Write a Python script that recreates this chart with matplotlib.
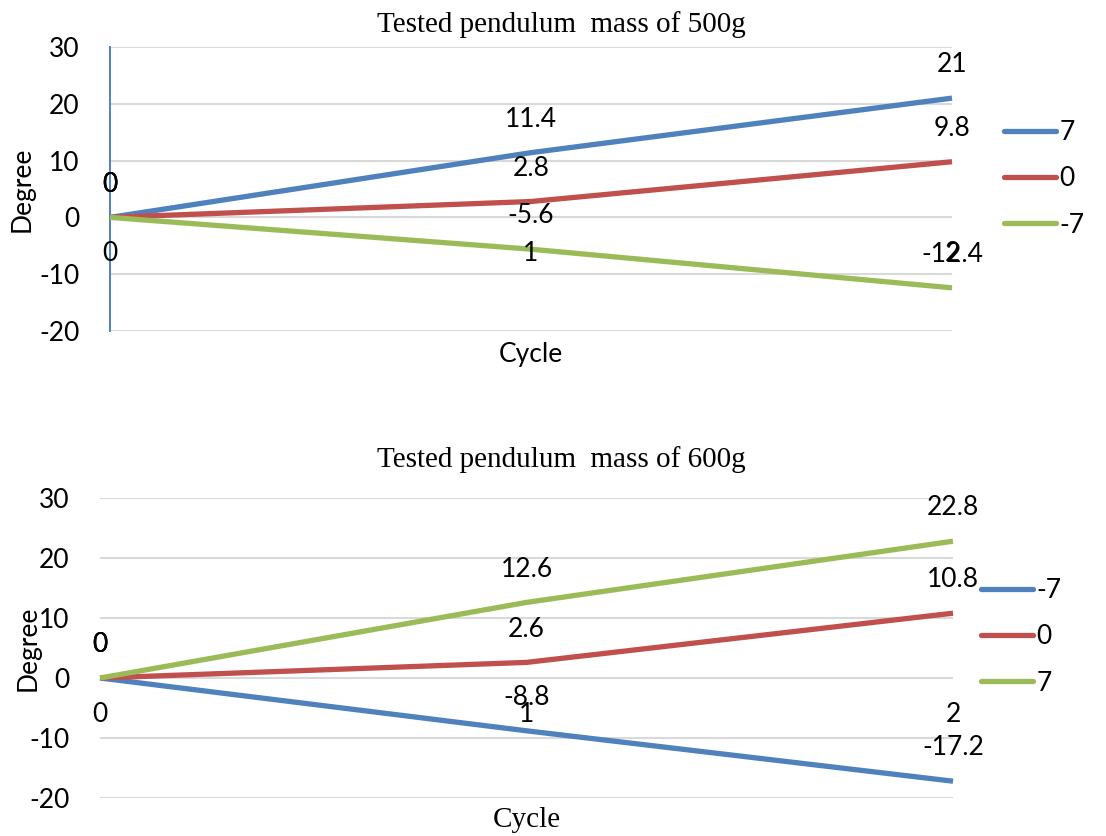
import matplotlib
matplotlib.use("Agg")
import matplotlib.pyplot as plt
from matplotlib.lines import Line2D

cycles = [0, 1, 2]
cycle_labels = ["0", "1", "2"]
yticks = [-20, -10, 0, 10, 20, 30]

top_title = "Tested pendulum  mass of 500g"
top_names = ["7", "0", "-7"]
top_pos7 = [0, 11.4, 21]
top_zero = [0, 2.8, 9.8]
top_neg7 = [0, -5.6, -12.4]

bot_title = "Tested pendulum  mass of 600g"
bot_names = ["-7", "0", "7"]
bot_neg7 = [0, -8.8, -17.2]
bot_zero = [0, 2.6, 10.8]
bot_pos7 = [0, 12.6, 22.8]

BLUE = "#4F81BD"
RED = "#C0504D"
GREEN = "#9BBB59"

SANS = ["Lato", "DejaVu Sans"]
SERIF = ["Liberation Serif", "DejaVu Serif"]
FS = 19
TFS = 21

W, H = 1106, 836
fig = plt.figure(figsize=(W / 100, H / 100), dpi=100)


def make_panel(rect, title, title_y, series, names, colors, legend_xy,
               cycle_font, cycle_fs, left_spine, ylabel_x, cycle_label_y):
    ax = fig.add_axes(rect)
    ax.set_xlim(0, 2)
    ax.set_ylim(-20, 30)
    ax.set_yticks(yticks)
    ax.set_yticklabels([str(v) for v in yticks], fontsize=FS, family=SANS)
    ax.set_xticks([])
    ax.tick_params(axis="y", length=0, pad=22)
    ax.grid(axis="y", color="#D9D9D9", linewidth=1.5)
    ax.set_axisbelow(True)
    for s in ["top", "right", "bottom"]:
        ax.spines[s].set_visible(False)
    if left_spine:
        ax.spines["left"].set_color(BLUE)
        ax.spines["left"].set_linewidth(1.4)
    else:
        ax.spines["left"].set_visible(False)

    for ys, c in zip(series, colors):
        ax.plot(cycles, ys, color=c, linewidth=3.8, solid_joinstyle="round",
                solid_capstyle="butt", zorder=3, clip_on=False)
        for x, y in zip(cycles, ys):
            lbl = "0" if y == 0 else f"{y:g}"
            ax.annotate(lbl, (x, y), xytext=(0, 24), textcoords="offset points",
                        ha="center", va="center", fontsize=FS, family=SANS,
                        zorder=5, annotation_clip=False)
    for x, lab in zip(cycles, cycle_labels):
        ax.annotate(lab, (x, 0), xytext=(0, -26), textcoords="offset points",
                    ha="center", va="center", fontsize=FS, family=SANS,
                    zorder=5, annotation_clip=False)

    fig.text(561 / W, title_y, title, ha="center", va="center",
             fontsize=TFS, family=SERIF)
    fig.text(ylabel_x, rect[1] + rect[3] * 0.5, "Degree", rotation=90,
             ha="center", va="center", fontsize=FS, family=SANS)
    fig.text(rect[0] + rect[2] / 2, cycle_label_y, "Cycle", ha="center",
             va="center", fontsize=cycle_fs, family=cycle_font)

    handles = [Line2D([], [], color=c, linewidth=3.8, solid_capstyle="round")
               for c in colors]
    fig.legend(handles, names, loc="center left",
               bbox_to_anchor=legend_xy, frameon=False,
               prop={"family": SANS, "size": FS}, borderpad=0,
               handlelength=1.95, handletextpad=0.15, labelspacing=0.8)
    return ax


make_panel([110 / W, 1 - 331 / H, 842 / W, 284 / H], top_title, 1 - 25 / H,
           [top_pos7, top_zero, top_neg7], top_names, [BLUE, RED, GREEN],
           (991 / W, 1 - 179 / H), SANS, FS, True, 22 / W, 1 - 354 / H)

make_panel([100 / W, 1 - 798 / H, 853 / W, 300 / H], bot_title, 1 - 460 / H,
           [bot_neg7, bot_zero, bot_pos7], bot_names, [BLUE, RED, GREEN],
           (968 / W, 1 - 637 / H), SERIF, TFS, False, 28 / W, 1 - 820 / H)

fig.savefig("out.png", dpi=100, facecolor="white")
